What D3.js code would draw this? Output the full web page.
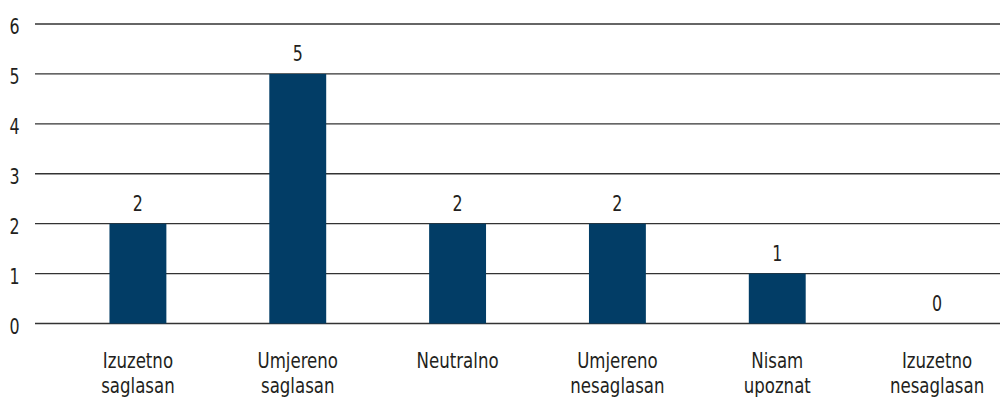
<!DOCTYPE html>
<html><head><meta charset="utf-8">
<script src="https://cdn.jsdelivr.net/npm/d3@7"></script>
<style>
body{margin:0;background:#fff;}
text{font-family:"DejaVu Sans Condensed","DejaVu Sans",sans-serif;font-stretch:condensed;fill:#231f20;}
</style></head>
<body><svg id="c" width="1000" height="400"></svg>
<script>
const categories = [["Izuzetno","saglasan"],["Umjereno","saglasan"],["Neutralno"],["Umjereno","nesaglasan"],["Nisam","upoznat"],["Izuzetno","nesaglasan"]];
const values = [2,5,2,2,1,0];
const yTicks = [0,1,2,3,4,5,6];

const SX = 0.84;
const svg = d3.select("#c");
const x = d3.scaleBand().domain(d3.range(categories.length)).range([58,1017]).paddingInner(0.644).paddingOuter(0.322);
const y = d3.scaleLinear().domain([0,6]).range([323.5,24]);

svg.append("g").selectAll("line").data(yTicks).join("line")
  .attr("x1",35).attr("x2",1000)
  .attr("y1",d=>y(d)).attr("y2",d=>y(d))
  .attr("stroke","#333").attr("stroke-width",1.3);

svg.append("g").selectAll("text").data(yTicks).join("text")
  .attr("transform",d=>`translate(19.5,${y(d)+10}) scale(${SX},1)`)
  .attr("text-anchor","end").attr("font-size",21).text(d=>d);

svg.append("g").selectAll("rect").data(values).join("rect")
  .attr("x",(d,i)=>x(i)).attr("width",x.bandwidth())
  .attr("y",d=>y(d)).attr("height",d=>y(0)-y(d))
  .attr("fill","#023d66");

svg.append("g").selectAll("text").data(values).join("text")
  .attr("transform",(d,i)=>`translate(${x(i)+x.bandwidth()/2},${y(d)-12.5}) scale(${SX},1)`)
  .attr("text-anchor","middle").attr("font-size",21).text(d=>d);

const cl = svg.append("g").selectAll("text").data(categories).join("text")
  .attr("transform",(d,i)=>`translate(${x(i)+x.bandwidth()/2},368) scale(${SX},1)`)
  .attr("text-anchor","middle").attr("font-size",22);
cl.selectAll("tspan").data(d=>d).join("tspan")
  .attr("x",0)
  .attr("dy",(d,j)=>j===0?0:25.5).text(d=>d);
</script></body></html>
